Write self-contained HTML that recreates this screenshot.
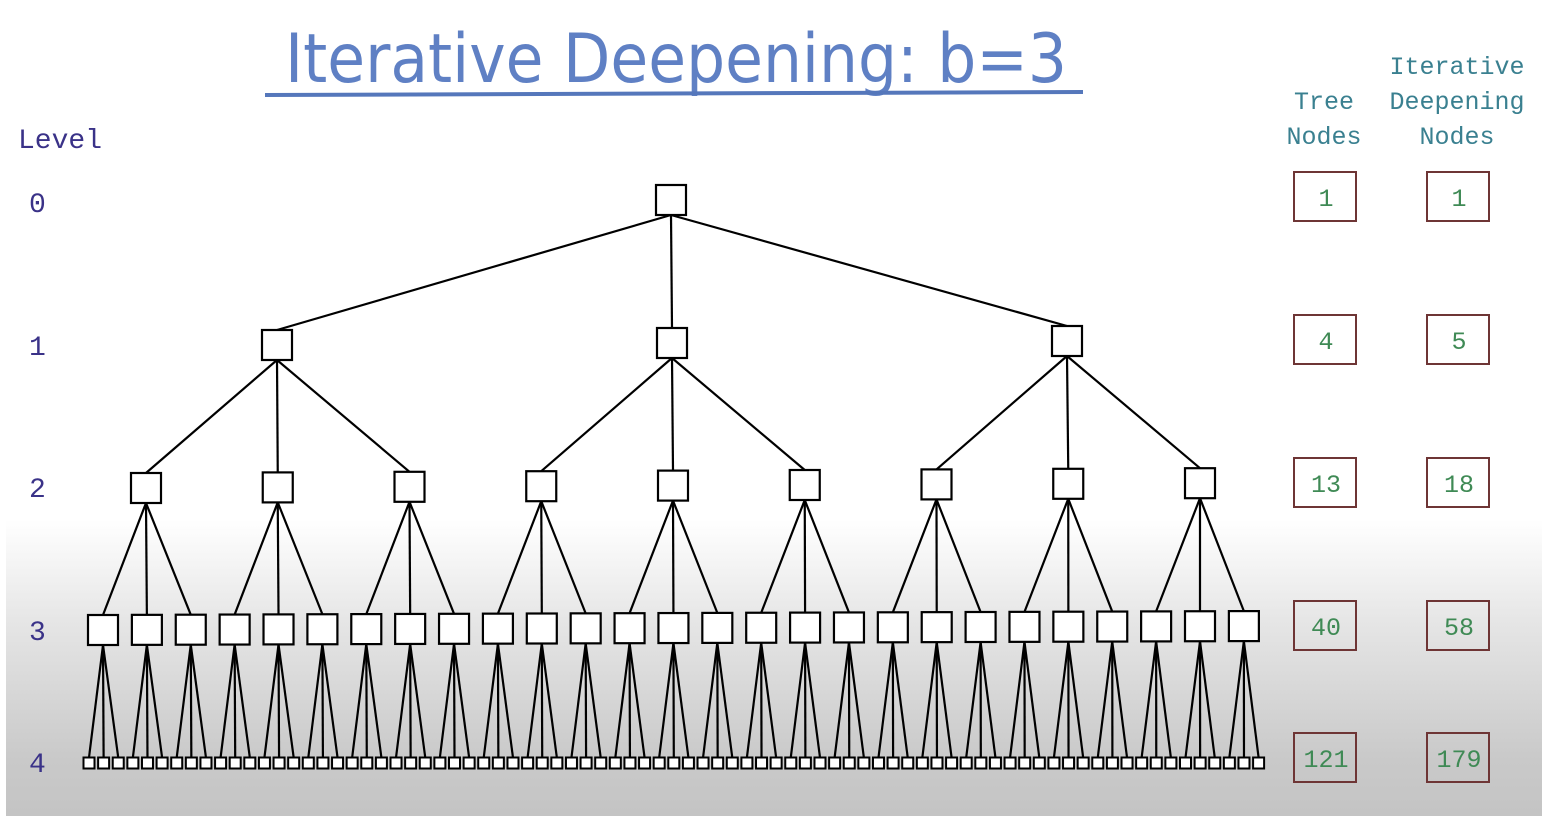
<!DOCTYPE html>
<html><head><meta charset="utf-8"><style>
body{margin:0;width:1546px;height:816px;overflow:hidden;background:#fff;font-family:"Liberation Mono","DejaVu Sans Mono",monospace;}
#bg{position:absolute;left:6px;top:0;width:1536px;height:816px;background:linear-gradient(to bottom,#fff 0,#fff 520px,#e6e6e6 620px,#c9c9c9 760px,#c4c4c4 816px);}
svg{position:absolute;left:0;top:0;}
</style></head><body>
<div id="bg"></div>
<svg id="s" width="1546" height="816" xmlns="http://www.w3.org/2000/svg">
<text x="285" y="82" font-family="DejaVu Sans,sans-serif" font-size="68" fill="#5f80c4" textLength="782" lengthAdjust="spacingAndGlyphs">Iterative Deepening: b=3</text>
<line x1="265" y1="95" x2="1083" y2="92" stroke="#5577bb" stroke-width="4"/>
<g font-family="Liberation Mono,monospace" font-size="28" fill="#3a3288">
<text x="18" y="148">Level</text>
<text x="29" y="212">0</text><text x="29" y="355">1</text><text x="29" y="497">2</text><text x="29" y="640">3</text><text x="29" y="772">4</text>
</g>
<g font-family="Liberation Mono,monospace" font-size="25" fill="#3a8090" text-anchor="middle">
<text x="1324" y="109">Tree</text><text x="1324" y="144">Nodes</text>
<text x="1457" y="74">Iterative</text><text x="1457" y="109">Deepening</text><text x="1457" y="144">Nodes</text>
</g>
<g id="tree" stroke="#000" stroke-width="2.2" fill="#fff"></g>
<g id="rb" font-family="Liberation Mono,monospace" font-size="25" fill="#3f8a55" text-anchor="middle"></g>
</svg>
<script>
var NS="http://www.w3.org/2000/svg",t=document.getElementById('tree'),rb=document.getElementById('rb');
function el(p,n,a){var e=document.createElementNS(NS,n);for(var k in a)e.setAttribute(k,a[k]);p.appendChild(e);return e;}
var L=[[{x:671,y:200}],[],[],[],[]];
[277,672,1067].forEach(function(x,i){L[1].push({x:x,y:345-2*i});});
for(var i=0;i<9;i++)L[2].push({x:146+i*131.75,y:488-i*0.6});
for(var i=0;i<27;i++)L[3].push({x:103+i*43.88,y:630-i*0.15});
for(var i=0;i<81;i++)L[4].push({x:89+i*14.62,y:763});
var S=[30,30,30,30,11];
var lines=[];
for(var l=0;l<4;l++)L[l].forEach(function(p,i){for(var c=0;c<3;c++){var q=L[l+1][i*3+c];lines.push([p.x,p.y+S[l]/2,q.x,q.y-S[l+1]/2]);}});
lines.forEach(function(a){el(t,'line',{x1:a[0],y1:a[1],x2:a[2],y2:a[3]});});
for(var l=0;l<5;l++)L[l].forEach(function(p){el(t,'rect',{x:p.x-S[l]/2,y:p.y-S[l]/2,width:S[l],height:S[l],'stroke-width':l==4?2:2.2});});
var ys=[172,315,458,601,733],a=["1","4","13","40","121"],b=["1","5","18","58","179"];
ys.forEach(function(y,i){
 el(rb,'rect',{x:1294,y:y,width:62,height:49,fill:'none',stroke:'#6e3535','stroke-width':2});
 el(rb,'rect',{x:1427,y:y,width:62,height:49,fill:'none',stroke:'#6e3535','stroke-width':2});
 el(rb,'text',{x:1326,y:y+34}).textContent=a[i];
 el(rb,'text',{x:1459,y:y+34}).textContent=b[i];
});
</script>
</body></html>
